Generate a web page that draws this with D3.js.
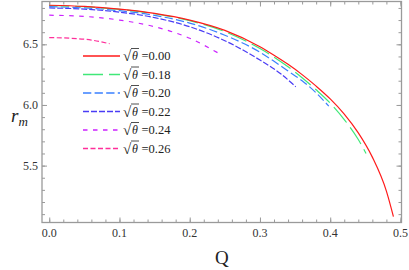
<!DOCTYPE html>
<html lang="en">
<head>
    <meta charset="UTF-8">
    <title>r_m vs Q</title>
    <style>
        body { margin: 0; background: #fff; }
        svg text { font-family: "Liberation Serif", "Times New Roman", serif; }
        .frame line, .frame path { stroke: #9a9a9a; }
        .tick-label { font-size: 12px; fill: #333; }
        .curve { fill: none; stroke-width: 1.2px; }
    </style>
    <script src="https://d3js.org/d3.v7.min.js"></script>
</head>
<body>
    <div id="chart"></div>
    <script>
        // sqrt(theta) labels for each curve
        const thetaLabels = ["0.00", "0.18", "0.20", "0.22", "0.24", "0.26"];

        // Q values and r_m values, one pair of arrays per curve
        const q000 = [0, 0.05, 0.1, 0.15, 0.2, 0.25, 0.3, 0.32, 0.34, 0.36, 0.38, 0.4, 0.42, 0.44, 0.46, 0.48, 0.49];
        const r000 = [6.822, 6.812, 6.79, 6.755, 6.70, 6.615, 6.48, 6.41, 6.335, 6.25, 6.155, 6.05, 5.925, 5.77, 5.57, 5.29, 5.08];

        const q018 = [0, 0.05, 0.1, 0.15, 0.2, 0.25, 0.3, 0.32, 0.34, 0.36, 0.38, 0.4, 0.42, 0.44, 0.451];
        const r018 = [6.82, 6.81, 6.788, 6.752, 6.695, 6.605, 6.465, 6.395, 6.315, 6.225, 6.125, 6.015, 5.88, 5.715, 5.60];

        const q020 = [0, 0.05, 0.1, 0.15, 0.2, 0.25, 0.3, 0.32, 0.34, 0.36, 0.38, 0.398];
        const r020 = [6.81, 6.80, 6.777, 6.738, 6.675, 6.575, 6.435, 6.36, 6.28, 6.20, 6.10, 5.99];

        const q022 = [0, 0.05, 0.1, 0.15, 0.2, 0.25, 0.3, 0.33, 0.351];
        const r022 = [6.80, 6.79, 6.765, 6.72, 6.645, 6.53, 6.37, 6.255, 6.15];

        const q024 = [0, 0.05, 0.1, 0.15, 0.2, 0.24];
        const r024 = [6.74, 6.73, 6.70, 6.645, 6.55, 6.43];

        const q026 = [0, 0.03, 0.06, 0.086];
        const r026 = [6.555, 6.55, 6.535, 6.505];

        const xTicks = [0, 0.1, 0.2, 0.3, 0.4, 0.5];
        const yTicks = [5.5, 6.0, 6.5];

        const qSets = [q000, q018, q020, q022, q024, q026];
        const rSets = [r000, r018, r020, r022, r024, r026];
        const colors = ["#ff1a1a", "#40e878", "#3a80ff", "#4a3cf5", "#cc22ff", "#ff2f9a"];
        const dashes = [null, "20,6", "8.3,3.3", "6,2", "4.5,5.5", "5,2.5"];

        const W = 409, H = 270;
        const pLeft = 42, pRight = 401.5, pTop = 1.5, pBottom = 222.5;

        const svg = d3.select("#chart").append("svg")
            .attr("width", W).attr("height", H)
            .attr("font-family", "Liberation Serif, serif");

        const x = d3.scaleLinear().domain([-0.0103, 0.5015]).range([pLeft, pRight]);
        const y = d3.scaleLinear().domain([5.031, 6.853]).range([pBottom, pTop]);

        // frame with inward ticks on all four sides
        const xMinor = d3.range(0, 0.501, 0.02);
        const yMinor = d3.range(5.1, 6.85, 0.1);

        const frame = svg.append("g").attr("class", "frame");

        frame.append("g").attr("transform", `translate(0,${pBottom})`)
            .call(d3.axisTop(x).tickValues(xMinor).tickSize(3).tickFormat(""));
        frame.append("g").attr("transform", `translate(0,${pBottom})`)
            .call(d3.axisTop(x).tickValues(xTicks).tickSize(5).tickFormat(""));
        frame.append("g").attr("transform", `translate(0,${pTop})`)
            .call(d3.axisBottom(x).tickValues(xMinor).tickSize(3).tickFormat(""));
        frame.append("g").attr("transform", `translate(0,${pTop})`)
            .call(d3.axisBottom(x).tickValues(xTicks).tickSize(5).tickFormat(""));
        frame.append("g").attr("transform", `translate(${pLeft},0)`)
            .call(d3.axisRight(y).tickValues(yMinor).tickSize(3).tickFormat(""));
        frame.append("g").attr("transform", `translate(${pLeft},0)`)
            .call(d3.axisRight(y).tickValues(yTicks).tickSize(5).tickFormat(""));
        frame.append("g").attr("transform", `translate(${pRight},0)`)
            .call(d3.axisLeft(y).tickValues(yMinor).tickSize(3).tickFormat(""));
        frame.append("g").attr("transform", `translate(${pRight},0)`)
            .call(d3.axisLeft(y).tickValues(yTicks).tickSize(5).tickFormat(""));
        frame.selectAll(".domain").remove();
        frame.append("rect")
            .attr("x", pLeft).attr("y", pTop)
            .attr("width", pRight - pLeft).attr("height", pBottom - pTop)
            .attr("fill", "none").attr("stroke", "#9a9a9a").attr("stroke-width", 1.3);

        // tick labels
        svg.selectAll(".xl").data(xTicks).enter().append("text")
            .attr("class", "tick-label")
            .attr("x", d => x(d)).attr("y", pBottom + 14)
            .attr("text-anchor", "middle")
            .text(d3.format(".1f"));
        svg.selectAll(".yl").data(yTicks).enter().append("text")
            .attr("class", "tick-label")
            .attr("x", pLeft - 4).attr("y", d => y(d) + 4)
            .attr("text-anchor", "end")
            .text(d3.format(".1f"));

        // axis titles
        svg.append("text")
            .attr("x", (pLeft + pRight) / 2).attr("y", 264)
            .attr("text-anchor", "middle")
            .style("font-size", "19px").style("fill", "#222")
            .text("Q");
        const rt = svg.append("text")
            .attr("x", 11).attr("y", 122)
            .style("font-size", "19px").style("fill", "#222");
        rt.append("tspan").style("font-style", "italic").text("r");
        rt.append("tspan").attr("dy", 4).style("font-size", "13px").style("font-style", "italic").text("m");

        // curves
        const line = d3.line()
            .x(d => x(d[0]))
            .y(d => y(d[1]))
            .curve(d3.curveMonotoneX);

        // draw in reverse so red sits on top
        d3.range(qSets.length).reverse().forEach(i => {
            const pts = qSets[i].map((q, j) => [q, rSets[i][j]]);
            svg.append("path")
                .attr("class", "curve")
                .attr("d", line(pts))
                .attr("stroke", colors[i])
                .attr("stroke-dasharray", dashes[i]);
        });

        // legend
        const lg = svg.append("g");
        thetaLabels.forEach((t, i) => {
            const ly = 56 + i * 18.5;
            lg.append("line")
                .attr("x1", 83).attr("x2", 120)
                .attr("y1", ly).attr("y2", ly)
                .attr("stroke", colors[i]).attr("stroke-width", 1.3)
                .attr("stroke-dasharray", dashes[i]);
            lg.append("text")
                .attr("x", 123).attr("y", ly + 5)
                .style("font-size", "15px").style("fill", "#222")
                .text("\u221A");
            lg.append("line")
                .attr("x1", 131).attr("x2", 139)
                .attr("y1", ly - 7.5).attr("y2", ly - 7.5)
                .attr("stroke", "#222").attr("stroke-width", 0.8);
            lg.append("text")
                .attr("x", 132).attr("y", ly + 4)
                .style("font-size", "12px").style("font-style", "italic").style("fill", "#222")
                .text("\u03B8");
            lg.append("text")
                .attr("x", 141.5).attr("y", ly + 4)
                .style("font-size", "12.5px").style("fill", "#222")
                .text("=" + t);
        });
    </script>
</body>
</html>
